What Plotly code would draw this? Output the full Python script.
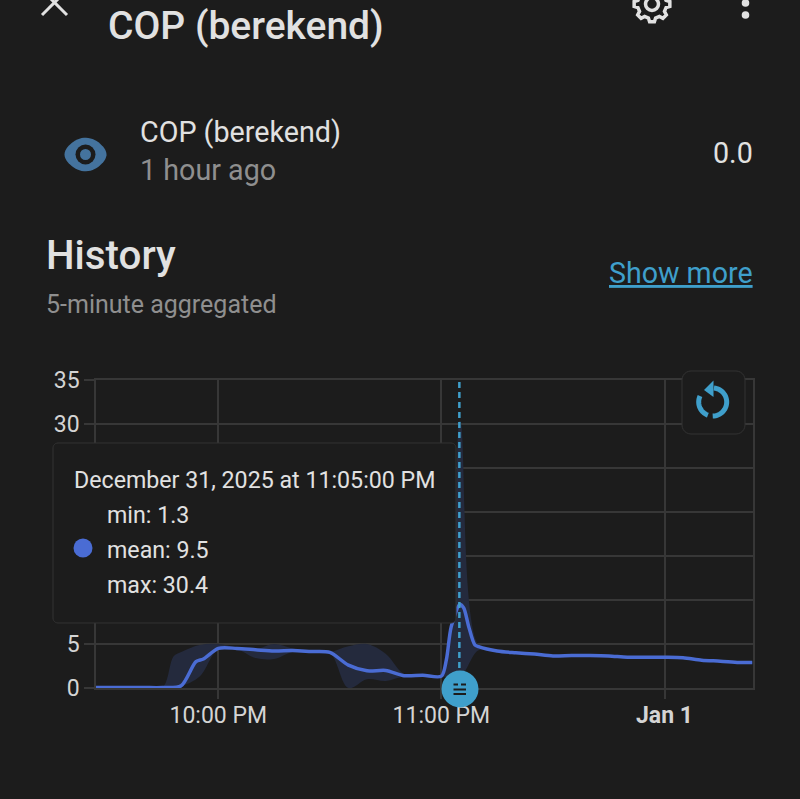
import numpy as np
import plotly.graph_objects as go

W = 800
H = 799
BG = '#1c1c1c'
GRID = '#373737'
BLUE = '#4a6cd4'
BAND = '#242a3d'
ACCENT = '#3f9fcb'
TEXT = '#e1e1e1'
GREY = '#8f8f8f'

band_times = [
    '2025-12-31 21:26:20', '2025-12-31 21:30', '2025-12-31 21:35', '2025-12-31 21:40',
    '2025-12-31 21:45', '2025-12-31 21:48', '2025-12-31 21:50', '2025-12-31 21:55', '2025-12-31 22:00',
    '2025-12-31 22:05', '2025-12-31 22:10', '2025-12-31 22:15', '2025-12-31 22:20',
    '2025-12-31 22:25', '2025-12-31 22:30', '2025-12-31 22:35', '2025-12-31 22:40',
    '2025-12-31 22:45', '2025-12-31 22:50', '2025-12-31 22:55', '2025-12-31 23:00',
    '2025-12-31 23:05', '2025-12-31 23:10', '2025-12-31 23:15', '2025-12-31 23:20',
    '2025-12-31 23:25', '2025-12-31 23:30', '2025-12-31 23:35', '2025-12-31 23:40',
    '2025-12-31 23:45', '2025-12-31 23:50', '2025-12-31 23:55', '2026-01-01 00:00',
    '2026-01-01 00:05', '2026-01-01 00:10', '2026-01-01 00:15', '2026-01-01 00:20',
    '2026-01-01 00:23:40',
]
cop_min = [0.05, 0.05, 0.05, 0.05, 0.05, 0.1, 0.2, 1.3, 4.4, 4.4, 3.4, 3.3, 4.1, 4.1, 4.0,
           0.0, 1.0, 0.8, 1.3, 1.4, 1.3, 1.3, 4.3, 4.15, 3.95, 3.8, 3.6, 3.65, 3.65,
           3.6, 3.45, 3.45, 3.45, 3.4, 3.1, 3.0, 2.85, 2.85]
cop_max = [0.05, 0.05, 0.05, 0.05, 0.05, 3.6, 4.1, 4.9, 5.0, 4.6, 4.4, 5.0, 4.5, 4.2, 4.1,
           4.75, 5.0, 3.9, 1.6, 1.5, 1.4, 30.4, 4.9, 4.25, 4.05, 3.9, 3.7, 3.75, 3.75,
           3.7, 3.55, 3.55, 3.55, 3.5, 3.2, 3.1, 2.95, 2.95]

mean_times = [
    '2025-12-31 21:26:20', '2025-12-31 21:30', '2025-12-31 21:35', '2025-12-31 21:40',
    '2025-12-31 21:45', '2025-12-31 21:50', '2025-12-31 21:54', '2025-12-31 21:56', '2025-12-31 22:00',
    '2025-12-31 22:05', '2025-12-31 22:10', '2025-12-31 22:15', '2025-12-31 22:20',
    '2025-12-31 22:25', '2025-12-31 22:30', '2025-12-31 22:35', '2025-12-31 22:40',
    '2025-12-31 22:45', '2025-12-31 22:50', '2025-12-31 22:55', '2025-12-31 23:00',
    '2025-12-31 23:01:20', '2025-12-31 23:02:40', '2025-12-31 23:05', '2025-12-31 23:06',
    '2025-12-31 23:07:20', '2025-12-31 23:09', '2025-12-31 23:10', '2025-12-31 23:15', '2025-12-31 23:20',
    '2025-12-31 23:25', '2025-12-31 23:30', '2025-12-31 23:35', '2025-12-31 23:40',
    '2025-12-31 23:45', '2025-12-31 23:50', '2025-12-31 23:55', '2026-01-01 00:00',
    '2026-01-01 00:05', '2026-01-01 00:10', '2026-01-01 00:15', '2026-01-01 00:20',
    '2026-01-01 00:23:40',
]
cop_mean = [0.05, 0.05, 0.05, 0.05, 0.05, 0.25, 3.0, 3.3, 4.5, 4.5, 4.35, 4.2, 4.25, 4.15, 4.05,
            2.6, 1.95, 2.0, 1.4, 1.45, 1.35, 3.2, 7.0, 9.5, 9.1, 7.0, 4.9, 4.7, 4.2, 4.0, 3.85,
            3.65, 3.7, 3.7, 3.65, 3.5, 3.5, 3.5, 3.45, 3.15, 3.05, 2.9, 2.9]

y_ticks = [0, 5, 10, 15, 20, 25, 30, 35]
y_tick_labels = ['0', '5', '', '', '', '', '30', '35']  # the rest sit behind the tooltip
x_ticks = ['2025-12-31 22:00', '2025-12-31 23:00', '2026-01-01 00:00']
x_tick_labels = ['10:00 PM', '11:00 PM', '<b>Jan 1</b>']
x_range = ['2025-12-31 21:27:07', '2026-01-01 00:23:40']
hover_time = '2025-12-31 23:04:50'


def px(x):
    return x / W


def py(y):
    return 1 - y / H


def path(points, close=True):
    # pixel points to a paper-space svg path
    d = 'M' + 'L'.join(f'{px(x):.5f},{py(y):.5f}' for x, y in points)
    return d + ('Z' if close else '')


def round_rect(x0, y0, x1, y1, r):
    pts = []
    corners = [(x1 - r, y0 + r, -90), (x1 - r, y1 - r, 0), (x0 + r, y1 - r, 90), (x0 + r, y0 + r, 180)]
    for cx, cy, a in corners:
        for t in np.radians(np.linspace(a, a + 90, 7)):
            pts.append((cx + r * np.cos(t), cy + r * np.sin(t)))
    return path(pts)


def arc(cx, cy, r, a0, a1):
    # angles in degrees, clockwise on screen
    ts = np.radians(np.linspace(a0, a1, 30))
    return path([(cx + r * np.cos(t), cy + r * np.sin(t)) for t in ts], close=False)


def gear(cx, cy, r_out, r_in, teeth=8):
    pts = []
    step = 360 / teeth
    for i in range(teeth):
        a = i * step + 90
        for da, r in [(-step * 0.32, r_in), (-step * 0.17, r_out), (step * 0.17, r_out), (step * 0.32, r_in)]:
            t = np.radians(a + da)
            pts.append((cx + r * np.cos(t), cy + r * np.sin(t)))
    return path(pts)


def paper_shape(**kw):
    return dict(xref='paper', yref='paper', layer='above', **kw)


def circle(cx, cy, r, fill, line=None, width=0):
    return paper_shape(type='circle', x0=px(cx - r), x1=px(cx + r), y0=py(cy + r), y1=py(cy - r),
                       fillcolor=fill, line=dict(color=line or fill, width=width))


def stroke(d, color, width):
    return paper_shape(type='path', path=d, line=dict(color=color, width=width))


def solid(d, color, border=None, width=0):
    return paper_shape(type='path', path=d, fillcolor=color, line=dict(color=border or color, width=width))


def label(x, y, text, size, color=TEXT, anchor='left', weight=400):
    return dict(xref='paper', yref='paper', x=px(x), y=py(y), text=text, showarrow=False,
                xanchor=anchor, yanchor='middle', align=anchor, borderpad=0,
                font=dict(family='Roboto', size=size, color=color, weight=weight))


fig = go.Figure()
fig.add_trace(go.Scatter(x=band_times, y=cop_min, mode='lines', line=dict(width=0, shape='spline', smoothing=1),
                         showlegend=False, hoverinfo='skip'))
fig.add_trace(go.Scatter(x=band_times, y=cop_max, mode='lines', line=dict(width=0, shape='spline', smoothing=1),
                         fill='tonexty', fillcolor=BAND, showlegend=False, hoverinfo='skip'))
fig.add_trace(go.Scatter(x=mean_times, y=cop_mean, mode='lines', line=dict(color=BLUE, width=3.5, shape='spline', smoothing=0.8),
                         showlegend=False, name='mean', cliponaxis=False))

shapes = [
    # hover line
    dict(type='line', xref='x', yref='paper', x0=hover_time, x1=hover_time, y0=py(688), y1=py(380),
         line=dict(color=ACCENT, width=2.5, dash='6px,4px'), layer='above'),
    # tooltip box
    solid(round_rect(53, 443, 456, 623, 5), BG, border='#333333', width=1),
    circle(83, 548, 9.5, BLUE),
    # reset button
    solid(round_rect(682, 371, 745, 434, 9), BG, border='#333333', width=1),
    stroke(arc(712.7, 402, 14, -85, 90), ACCENT, 5),
    stroke(arc(712.7, 402, 14, 110, 205), ACCENT, 5),
    solid(path([(713.5, 380.5), (713.5, 397), (704, 390)]), ACCENT),
    # menu button on the axis
    circle(460, 689, 18.5, ACCENT),
    stroke(path([(453.5, 684.5), (458, 684.5)], close=False), '#1c1c1c', 2),
    stroke(path([(461, 684.5), (466, 684.5)], close=False), '#1c1c1c', 2),
    stroke(path([(453.5, 689.5), (466, 689.5)], close=False), '#1c1c1c', 2),
    stroke(path([(453.5, 694), (466, 694)], close=False), '#1c1c1c', 2),
    # header icons
    stroke(path([(42, 15), (67, -10)], close=False), TEXT, 3),
    stroke(path([(67, 15), (42, -10)], close=False), TEXT, 3),
    solid(gear(652, 4, 18, 14.5), BG, border=TEXT, width=3.5),
    circle(652, 4, 6.5, BG, line=TEXT, width=3.5),
    circle(745.5, 3, 3.8, TEXT),
    circle(745.5, 15, 3.8, TEXT),
    # entity icon
    solid(path([(64.5 + 42 * (0.5 - 0.5 * np.cos(t)), 154.5 - 15 * np.sin(t) * (1 - 0.12 * np.cos(2 * t)))
                for t in np.linspace(0, 2 * np.pi, 60)]), '#44739e'),
    circle(85.5, 154.5, 10, BG),
    circle(85.5, 154.5, 5.5, '#44739e'),
]

annotations = [
    label(107, 26, 'COP (berekend)', 39, weight=500),
    label(139, 132, 'COP (berekend)', 28.7),
    label(139, 170, '1 hour ago', 28.7, color=GREY),
    label(754, 153, '0.0', 28.7, anchor='right'),
    label(45, 256, 'History', 40.3, weight=500),
    label(754, 273, '<u>Show more</u>', 28.6, color=ACCENT, anchor='right'),
    label(45, 304, '5-minute aggregated', 25, color=GREY),
    label(73, 480, 'December 31, 2025 at 11:05:00 PM', 23.2),
    label(106, 515, 'min: 1.3', 23.2),
    label(106, 550, 'mean: 9.5', 23.2),
    label(106, 585, 'max: 30.4', 23.2),
]

fig.update_layout(
    width=W,
    height=H,
    margin=dict(l=0, r=0, t=0, b=0, autoexpand=False),
    paper_bgcolor=BG,
    plot_bgcolor=BG,
    showlegend=False,
    shapes=shapes,
    annotations=annotations,
    font=dict(family='Roboto', color='#d4d4d4', size=23),
    xaxis=dict(domain=[px(96), px(752.5)], range=x_range, type='date', tickmode='array', automargin=False,
               tickvals=x_ticks, ticktext=x_tick_labels, showgrid=True, gridcolor=GRID, gridwidth=1.5,
               ticks='outside', ticklen=9, tickcolor=GRID, tickwidth=1.5, zeroline=False, ticklabelstandoff=-3,
               showline=True, linecolor=GRID, mirror=True, linewidth=1.5, tickfont=dict(size=23)),
    yaxis=dict(domain=[py(688), py(380)], range=[0, 35], tickmode='array', tickvals=y_ticks,
               ticktext=y_tick_labels, automargin=False,
               showgrid=True, gridcolor=GRID, gridwidth=1.5, ticks='outside', ticklen=10,
               tickcolor=GRID, tickwidth=1.5, zeroline=False, showline=True, linecolor=GRID,
               mirror=True, linewidth=1.5, tickfont=dict(size=23)),
)

fig.write_html('out.html', config=dict(displayModeBar=False),
               post_script="document.body.style.margin='0';document.documentElement.style.overflow='hidden';")
